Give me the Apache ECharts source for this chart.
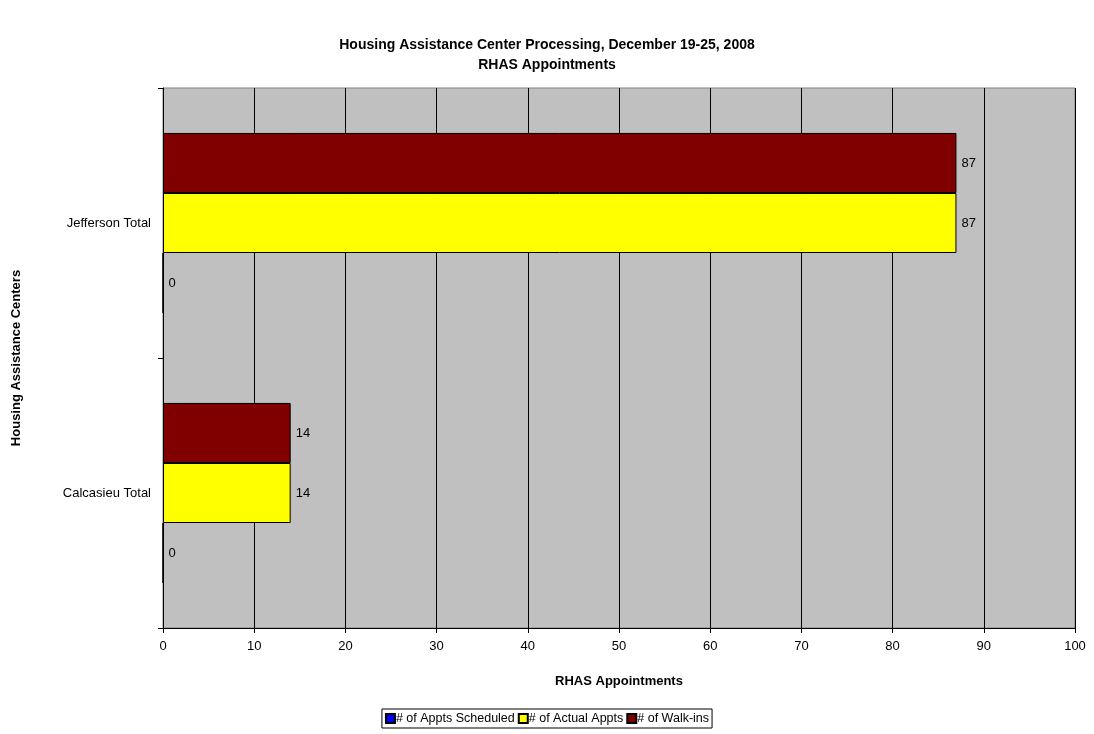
<!DOCTYPE html>
<html>
<head>
<meta charset="utf-8">
<script src="https://cdn.jsdelivr.net/npm/echarts@6/dist/echarts.min.js"></script>
<style>
  html, body { margin: 0; padding: 0; background: #fff; }
  #chart { width: 1094px; height: 734px; }
</style>
</head>
<body>
<div id="chart"></div>
<script>
// data
var centers = ['Calcasieu Total', 'Jefferson Total'];
var scheduled = [0, 0];
var actual = [14, 87];
var walkIns = [14, 87];
var xTicks = { min: 0, max: 100, interval: 10 };

var font = "Arial, 'Liberation Sans', sans-serif";

function barSeries(name, data, color) {
  return {
    name: name, type: 'bar', data: data,
    barGap: '0%', barCategoryGap: '33.3%',
    itemStyle: { color: color, borderColor: '#000', borderWidth: 1 },
    label: { show: true, position: 'right', distance: 5, color: '#000', fontSize: 13, fontFamily: font },
    animation: false
  };
}

var chart = echarts.init(document.getElementById('chart'));
chart.setOption({
  animation: false,
  textStyle: { fontFamily: font },
  title: {
    text: 'Housing Assistance Center Processing, December 19-25, 2008\nRHAS Appointments',
    left: 'center', top: 30,
    textStyle: { fontSize: 14, fontWeight: 'bold', color: '#000', lineHeight: 20, fontFamily: font }
  },
  legend: {
    bottom: 6, left: 'center',
    data: ['# of Appts Scheduled', '# of Actual Appts', '# of Walk-ins'],
    icon: 'rect', itemWidth: 9, itemHeight: 9, itemGap: 3,
    padding: [3, 3, 3, 3],
    borderColor: '#000', borderWidth: 1,
    textStyle: { fontSize: 12.5, color: '#000', fontFamily: font, padding: [0, 0, 0, -4] }
  },
  grid: {
    left: 163, right: 19, top: 88, bottom: 106,
    show: true, backgroundColor: '#c0c0c0', borderColor: '#808080', borderWidth: 1
  },
  xAxis: {
    type: 'value', min: xTicks.min, max: xTicks.max, interval: xTicks.interval,
    name: 'RHAS Appointments', nameLocation: 'middle', nameGap: 47,
    nameTextStyle: { fontSize: 13, fontWeight: 'bold', color: '#000', fontFamily: font },
    axisLine: { show: true, lineStyle: { color: '#000', width: 1 } },
    axisTick: { show: true, length: 5, lineStyle: { color: '#000' } },
    axisLabel: { fontSize: 13, color: '#000', margin: 12, fontFamily: font },
    splitLine: { show: true, lineStyle: { color: '#000', width: 1 } }
  },
  yAxis: {
    type: 'category', data: centers,
    name: 'Housing Assistance Centers', nameLocation: 'middle', nameGap: 140, nameRotate: 90,
    nameTextStyle: { fontSize: 13, fontWeight: 'bold', color: '#000', fontFamily: font },
    axisLine: { show: true, lineStyle: { color: '#000', width: 1 } },
    axisTick: { show: true, length: 5, alignWithLabel: false, lineStyle: { color: '#000' } },
    axisLabel: { fontSize: 13, color: '#000', margin: 12, fontFamily: font }
  },
  // first series is drawn on top within each band, so walk-ins go first
  series: [
    barSeries('# of Walk-ins', walkIns, '#800000'),
    barSeries('# of Actual Appts', actual, '#ffff00'),
    barSeries('# of Appts Scheduled', scheduled, '#0000ff')
  ]
});
</script>
</body>
</html>
